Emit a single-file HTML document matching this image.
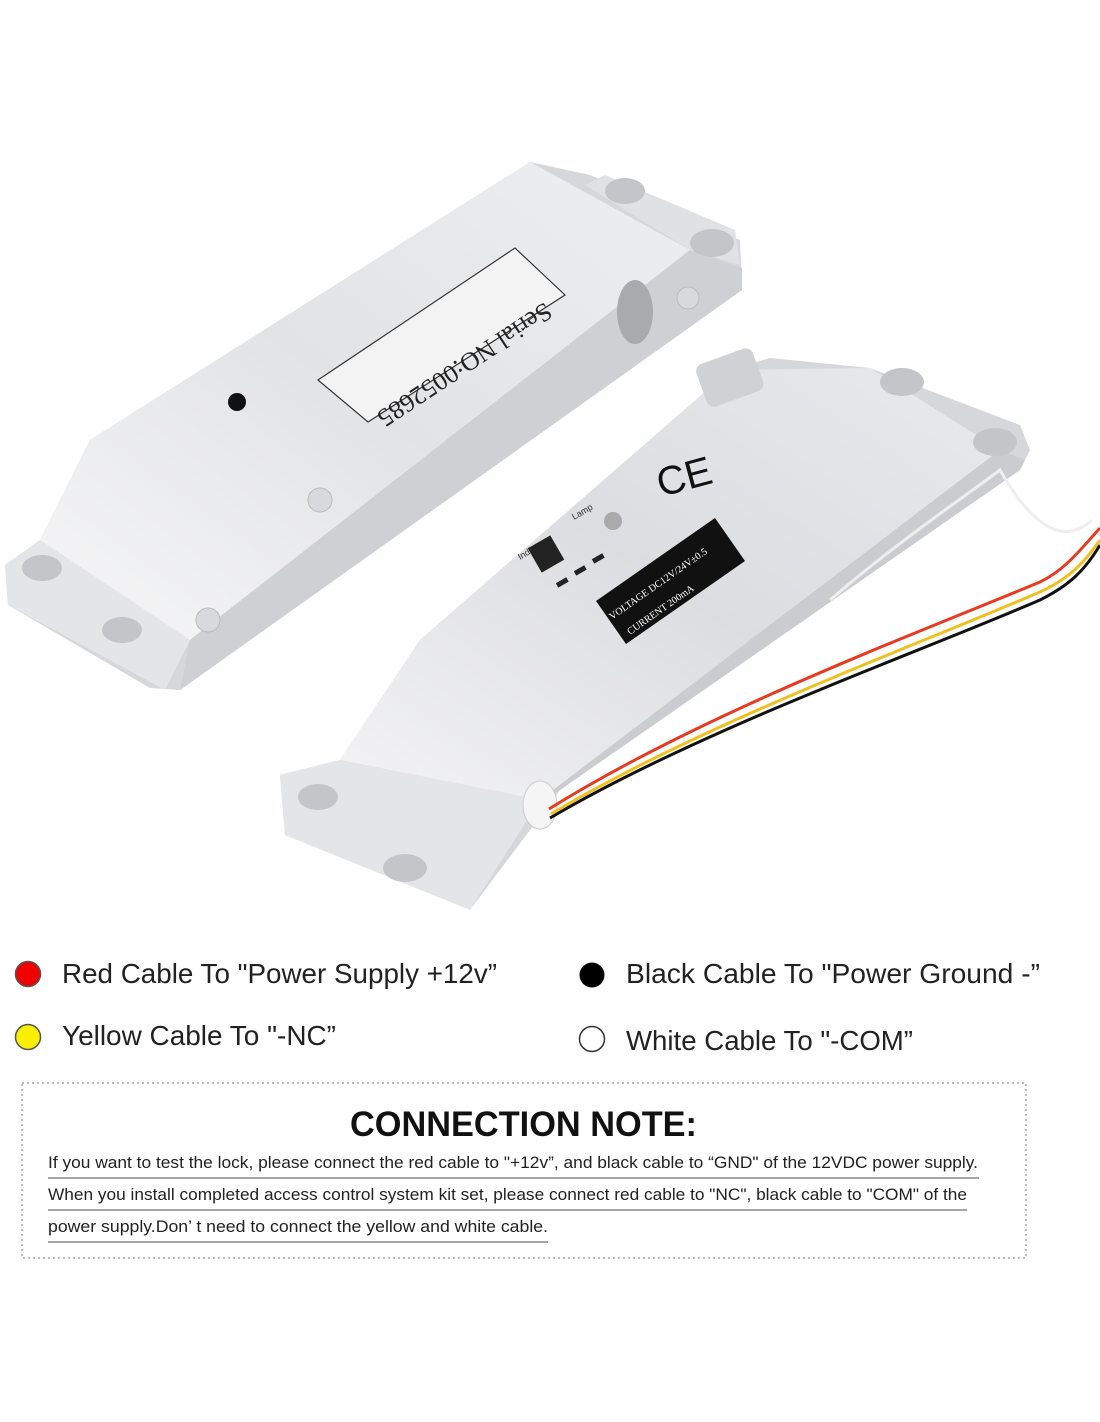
<!DOCTYPE html>
<html><head><meta charset="utf-8"><style>
html,body{margin:0;padding:0;background:#fff;}
svg{display:block;}
</style></head><body>
<svg width="1100" height="1422" viewBox="0 0 1100 1422" xmlns="http://www.w3.org/2000/svg" font-family="Liberation Sans, sans-serif">
<defs>
<linearGradient id="g1" x1="0" y1="1" x2="1" y2="0"><stop offset="0" stop-color="#f7f7f8"/><stop offset="0.5" stop-color="#e2e3e5"/><stop offset="1" stop-color="#eeeff0"/></linearGradient>
<linearGradient id="g2" x1="0" y1="1" x2="1" y2="0"><stop offset="0" stop-color="#f4f4f5"/><stop offset="0.5" stop-color="#dcdde0"/><stop offset="1" stop-color="#e9eaec"/></linearGradient>
</defs>
<!-- Lock 1 -->
<polygon points="40,540 90,440 530,162 590,175 740,240 742,290 180,690 150,688 8,605 5,565" fill="#d6d7da"/>
<polygon points="40,540 90,440 530,162 690,250 190,640" fill="url(#g1)"/>
<polygon points="190,640 690,250 742,268 742,290 180,690" fill="#cfd0d3"/>
<polygon points="5,565 40,540 190,640 165,690 8,605" fill="#e4e5e7"/>
<polygon points="585,185 605,175 735,230 740,265 690,250" fill="#e0e1e3"/>
<ellipse cx="42" cy="568" rx="20" ry="13" fill="#c4c5c8"/>
<ellipse cx="122" cy="630" rx="20" ry="13" fill="#c4c5c8"/>
<ellipse cx="625" cy="191" rx="20" ry="13" fill="#c4c5c8"/>
<ellipse cx="712" cy="243" rx="22" ry="14" fill="#c4c5c8"/>
<ellipse cx="635" cy="312" rx="18" ry="32" fill="#a9aaae"/>
<circle cx="237" cy="402" r="9" fill="#111"/>
<circle cx="320" cy="500" r="12" fill="#d8d9dc" stroke="#bbb"/>
<circle cx="208" cy="620" r="12" fill="#d8d9dc" stroke="#bbb"/>
<circle cx="688" cy="298" r="11" fill="#d8d9dc" stroke="#bbb"/>
<polygon points="318,380 515,248 565,295 368,422" fill="#f3f3f4" stroke="#333" stroke-width="1.2"/>
<text x="0" y="0" font-family="Liberation Serif, serif" font-size="26" fill="#222" transform="translate(378,412) rotate(-33.5) scale(-1,-1) translate(-200,0)">Serial NO:0052685</text>
<!-- Lock 2 -->
<polygon points="280,775 340,760 420,640 730,370 770,358 870,368 1020,425 1030,450 1020,470 560,790 470,910 440,895 285,835" fill="#d6d7da"/>
<polygon points="340,760 420,640 730,370 870,368 1000,450 540,800" fill="url(#g2)"/>
<polygon points="540,800 1000,450 1025,460 1020,470 560,790" fill="#cbccd0"/>
<polygon points="280,775 340,760 540,800 470,910 285,835" fill="#e4e5e7"/>
<rect x="700" y="355" width="60" height="45" rx="8" fill="#d0d1d4" transform="rotate(-20 730 378)"/>
<ellipse cx="318" cy="797" rx="20" ry="13" fill="#c4c5c8"/>
<ellipse cx="405" cy="868" rx="22" ry="14" fill="#c4c5c8"/>
<ellipse cx="902" cy="382" rx="22" ry="14" fill="#c4c5c8"/>
<ellipse cx="995" cy="442" rx="22" ry="14" fill="#c4c5c8"/>
<ellipse cx="540" cy="805" rx="17" ry="24" fill="#f5f5f5" stroke="#ccc"/>
<text x="656" y="490" font-size="40" fill="#111" transform="rotate(-15 685 475)">CE</text>
<text x="0" y="0" font-size="9" fill="#333" transform="translate(574,520) rotate(-30)">Lamp</text>
<text x="0" y="0" font-size="9" fill="#333" transform="translate(520,560) rotate(-30)">Indicator</text>
<circle cx="613" cy="521" r="9" fill="#aaa"/>
<rect x="533" y="540" width="26" height="28" fill="#222" transform="rotate(-30 546 554)"/>
<rect x="556" y="580" width="12" height="5" fill="#222" transform="rotate(-30 562 582)"/>
<rect x="574" y="568" width="12" height="5" fill="#222" transform="rotate(-30 580 570)"/>
<rect x="592" y="556" width="12" height="5" fill="#222" transform="rotate(-30 598 558)"/>
<polygon points="596,601 715,518 745,561 626,644" fill="#111"/>
<text x="0" y="0" font-family="Liberation Serif, serif" font-size="10" fill="#fff" transform="translate(612,620) rotate(-35)">VOLTAGE DC12V/24V±0.5</text>
<text x="0" y="0" font-family="Liberation Serif, serif" font-size="10" fill="#fff" transform="translate(630,635) rotate(-35)">CURRENT 200mA</text>
<!-- wires -->
<path d="M830,600 C900,540 960,500 1000,470 C1040,540 1070,540 1092,520" stroke="#eeeeee" stroke-width="3" fill="none"/>
<path d="M550,818 C700,730 900,660 1040,600 C1070,585 1085,570 1100,545" stroke="#111" stroke-width="3" fill="none"/>
<path d="M551,814 C700,725 900,652 1040,592 C1070,578 1085,562 1100,540" stroke="#f0c020" stroke-width="3" fill="none"/>
<path d="M549,809 C700,715 900,640 1040,582 C1065,570 1080,550 1100,528" stroke="#e83a20" stroke-width="3" fill="none"/>
<!-- legend -->
<circle cx="28" cy="974" r="12.5" fill="#f00000" stroke="#555" stroke-width="1.5"/>
<text x="62" y="983" font-size="28" fill="#222" textLength="435" lengthAdjust="spacingAndGlyphs">Red Cable To "Power Supply +12v”</text>
<circle cx="592" cy="975" r="12.5" fill="#000"/>
<text x="626" y="983" font-size="28" fill="#222" textLength="414" lengthAdjust="spacingAndGlyphs">Black Cable To "Power Ground -”</text>
<circle cx="28" cy="1037" r="12.5" fill="#f8f000" stroke="#555" stroke-width="1.5"/>
<text x="62" y="1045" font-size="28" fill="#222" textLength="274" lengthAdjust="spacingAndGlyphs">Yellow Cable To "-NC”</text>
<circle cx="592" cy="1039" r="12.5" fill="#fff" stroke="#333" stroke-width="1.5"/>
<text x="626" y="1050" font-size="28" fill="#222" textLength="287" lengthAdjust="spacingAndGlyphs">White Cable To "-COM”</text>
<!-- note box -->
<rect x="22" y="1083" width="1004" height="175" fill="none" stroke="#bbb" stroke-width="2" stroke-dasharray="2,3"/>
<text x="350" y="1136" font-size="35" font-weight="bold" fill="#111" textLength="347" lengthAdjust="spacingAndGlyphs">CONNECTION NOTE:</text>
<text x="48" y="1168" font-size="17" fill="#222" textLength="930" lengthAdjust="spacingAndGlyphs">If you want to test the lock, please connect the red cable to "+12v”, and black cable to “GND" of the 12VDC power supply.</text>
<line x1="48" y1="1178" x2="979" y2="1178" stroke="#888" stroke-width="1.5"/>
<text x="48" y="1200" font-size="17" fill="#222" textLength="919" lengthAdjust="spacingAndGlyphs">When you install completed access control system kit set, please connect red cable to "NC", black cable to "COM" of the</text>
<line x1="48" y1="1210" x2="967" y2="1210" stroke="#888" stroke-width="1.5"/>
<text x="48" y="1232" font-size="17" fill="#222" textLength="500" lengthAdjust="spacingAndGlyphs">power supply.Don’ t need to connect the yellow and white cable.</text>
<line x1="48" y1="1242" x2="548" y2="1242" stroke="#888" stroke-width="1.5"/>
</svg>
</body></html>
